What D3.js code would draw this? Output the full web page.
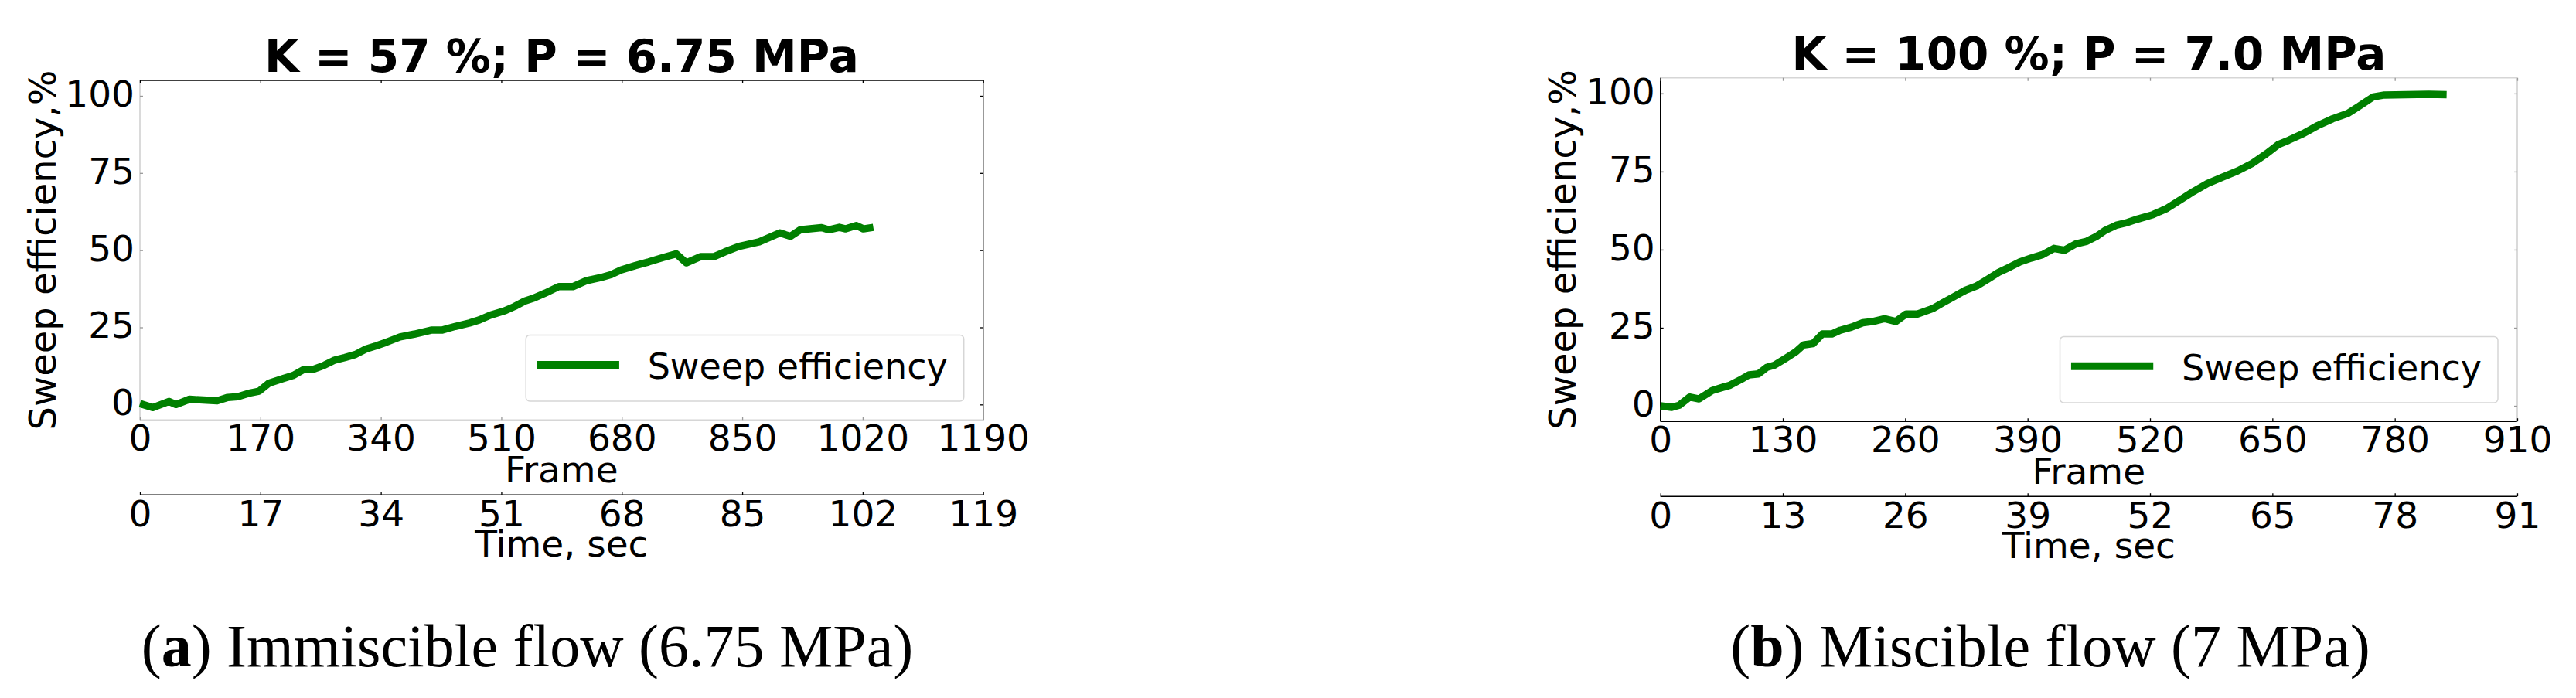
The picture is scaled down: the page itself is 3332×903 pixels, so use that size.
<!DOCTYPE html>
<html>
<head>
<meta charset="utf-8">
<script src="https://cdn.jsdelivr.net/npm/d3@7"></script>
<style>
  body { margin: 0; background: #fff; }
  svg { display: block; }
</style>
</head>
<body>
<svg id="fig" width="3332" height="903"></svg>
<script>
// (a) immiscible flow, 6.75 MPa
const framesA = [0, 18, 41, 51, 70, 94, 109, 124, 138, 153, 168, 182, 202, 216, 231, 246, 260, 275, 289, 304, 319, 333, 348, 367, 387, 411, 426, 445, 465, 479, 494, 514, 528, 543, 557, 572, 591, 611, 630, 650, 665, 679, 699, 718, 738, 757, 771, 791, 811, 825, 845, 874, 903, 918, 932, 962, 972, 987, 996, 1011, 1021, 1035]
const sweepA = [0.3, -1, 1, 0, 1.7, 1.4, 1.2, 2.3, 2.5, 3.6, 4.3, 6.9, 8.4, 9.4, 11.3, 11.5, 12.7, 14.4, 15.2, 16.2, 18, 19, 20.2, 21.9, 22.8, 24.1, 24.1, 25.3, 26.4, 27.4, 28.9, 30.3, 31.7, 33.5, 34.6, 36.1, 38.2, 38.2, 40.1, 41.1, 42.1, 43.6, 45, 46.2, 47.6, 48.8, 45.9, 47.9, 48, 49.4, 51.2, 52.7, 55.6, 54.5, 56.6, 57.3, 56.6, 57.4, 56.9, 58, 56.9, 57.4]
const frameTicksA = [0, 170, 340, 510, 680, 850, 1020, 1190]
const timeTicksA = [0, 17, 34, 51, 68, 85, 102, 119]

// (b) miscible flow, 7 MPa
const framesB = [0, 12, 20, 31, 41, 55, 66, 74, 86, 94, 104, 113, 121, 133, 144, 152, 162, 172, 182, 191, 203, 215, 226, 238, 250, 261, 273, 289, 300, 312, 324, 336, 347, 359, 371, 382, 394, 406, 418, 429, 441, 453, 464, 472, 484, 496, 507, 523, 538, 550, 566, 581, 597, 613, 628, 644, 656, 667, 683, 698, 714, 730, 745, 757, 769, 792, 816, 835]
const sweepB = [0, -0.5, 0.2, 2.8, 2.2, 4.9, 5.9, 6.6, 8.5, 9.9, 10.2, 12.3, 13, 15.2, 17.3, 19.5, 19.9, 23, 23, 24.2, 25.2, 26.6, 27, 27.9, 27, 29.4, 29.4, 31.1, 33, 35, 37, 38.4, 40.4, 42.7, 44.4, 46.1, 47.3, 48.4, 50.4, 49.8, 51.8, 52.7, 54.4, 56.1, 57.8, 58.7, 59.8, 61.2, 63.2, 65.5, 68.6, 71.2, 73.2, 75.2, 77.5, 80.8, 83.6, 85, 87.2, 89.7, 91.9, 93.6, 96.5, 98.9, 99.5, 99.6, 99.7, 99.6]
const frameTicksB = [0, 130, 260, 390, 520, 650, 780, 910]
const timeTicksB = [0, 13, 26, 39, 52, 65, 78, 91]

const sweepTicks = [0, 25, 50, 75, 100]
const titles = ['K = 57 %; P = 6.75 MPa', 'K = 100 %; P = 7.0 MPa']
const captionTags = ['a', 'b']
const captionTexts = ['Immiscible flow (6.75 MPa)', 'Miscible flow (7 MPa)']

const svg = d3.select('#fig')
const SANS = 'DejaVu Sans, sans-serif'
const GREEN = '#008000'
const LIGHT = '#d6d6d6'
const TICK = 4

function styleAxis(sel, color) {
  sel.select('.domain').remove()
  sel.selectAll('.tick line').attr('stroke', color).attr('stroke-width', 1.3)
  sel.selectAll('.tick text')
    .attr('font-family', SANS)
    .attr('font-size', 47)
    .attr('fill', '#000')
}

function drawPanel(p) {
  const g = svg.append('g')
  const x = d3.scaleLinear().domain([0, p.frameMax]).range([p.left, p.right])
  const t = d3.scaleLinear().domain([0, p.frameMax / 10]).range([p.left, p.right])
  const y = d3.scaleLinear().domain([-5, 105]).range([p.bottom, p.top])

  // spines; the two twin axes leave one pair dark and the other pale
  const spines = [
    {side: 'top', x1: p.left, x2: p.right, y1: p.top, y2: p.top},
    {side: 'bottom', x1: p.left, x2: p.right, y1: p.bottom, y2: p.bottom},
    {side: 'left', x1: p.left, x2: p.left, y1: p.top, y2: p.bottom},
    {side: 'right', x1: p.right, x2: p.right, y1: p.top, y2: p.bottom},
  ]
  g.selectAll('line.spine').data(spines).join('line')
    .attr('class', 'spine')
    .attr('x1', d => d.x1).attr('x2', d => d.x2)
    .attr('y1', d => d.y1).attr('y2', d => d.y2)
    .attr('stroke', d => p.dark.includes(d.side) ? '#000' : LIGHT)
    .attr('stroke-width', d => p.dark.includes(d.side) ? 1.4 : 1.8)

  const sideColor = (s) => p.dark.includes(s) ? '#000' : '#999'

  // frame axis (bottom)
  const bx = g.append('g').attr('transform', `translate(0,${p.bottom})`)
    .call(d3.axisBottom(x).tickValues(p.frameTicks).tickSize(-TICK).tickFormat(d3.format('d')))
  styleAxis(bx, sideColor('bottom'))
  bx.selectAll('.tick text').attr('y', 40).attr('dy', 0)

  const tx = g.append('g').attr('transform', `translate(0,${p.top})`)
    .call(d3.axisTop(x).tickValues(p.frameTicks).tickSize(-TICK).tickFormat(''))
  styleAxis(tx, sideColor('top'))

  // sweep axis (left + mirrored right ticks)
  const ly = g.append('g').attr('transform', `translate(${p.left},0)`)
    .call(d3.axisLeft(y).tickValues(sweepTicks).tickSize(-TICK).tickFormat(d3.format('d')))
  styleAxis(ly, sideColor('left'))
  ly.selectAll('.tick text').attr('x', -7).attr('dy', 13.5)

  const ry = g.append('g').attr('transform', `translate(${p.right},0)`)
    .call(d3.axisRight(y).tickValues(sweepTicks).tickSize(-TICK).tickFormat(''))
  styleAxis(ry, sideColor('right'))

  // time axis underneath
  const timeY = p.bottom + 97
  g.append('line')
    .attr('x1', p.left).attr('x2', p.right)
    .attr('y1', timeY).attr('y2', timeY)
    .attr('stroke', '#000').attr('stroke-width', 1.4)
  const ta = g.append('g').attr('transform', `translate(0,${timeY})`)
    .call(d3.axisBottom(t).tickValues(p.timeTicks).tickSize(-TICK).tickFormat(d3.format('d')))
  styleAxis(ta, '#000')
  ta.selectAll('.tick text').attr('y', 41).attr('dy', 0)

  const cx = (p.left + p.right) / 2
  g.append('text')
    .attr('x', cx).attr('y', p.bottom + 81)
    .attr('text-anchor', 'middle')
    .attr('font-family', SANS).attr('font-size', 47)
    .text('Frame')
  g.append('text')
    .attr('x', cx).attr('y', timeY + 80)
    .attr('text-anchor', 'middle')
    .attr('font-family', SANS).attr('font-size', 47)
    .text('Time, sec')

  g.append('text')
    .attr('transform', `translate(${p.left - 109.5},${(p.top + p.bottom) / 2}) rotate(-90)`)
    .attr('text-anchor', 'middle')
    .attr('font-family', SANS).attr('font-size', 48)
    .text('Sweep efficiency,%')

  g.append('text')
    .attr('x', cx).attr('y', p.top - 10.8)
    .attr('text-anchor', 'middle')
    .attr('font-family', SANS).attr('font-size', 58).attr('font-weight', 'bold')
    .text(p.title)

  // data line
  g.append('path')
    .datum(d3.zip(p.frames, p.sweep))
    .attr('d', d3.line().x(d => x(d[0])).y(d => y(d[1])))
    .attr('fill', 'none')
    .attr('stroke', GREEN)
    .attr('stroke-width', 9.5)
    .attr('stroke-linejoin', 'round')

  // legend, lower right
  const lg = g.append('g')
  const boxRight = p.right - 25
  const boxBottom = p.bottom - 24.3
  const boxTop = boxBottom - 85.5
  const box = lg.append('rect')
  const label = lg.append('text')
    .attr('font-family', SANS).attr('font-size', 46)
    .attr('y', boxTop + 56.4)
    .text('Sweep efficiency')
  const tw = label.node().getComputedTextLength()
  const boxLeft = boxRight - 21 - tw - 157.4
  label.attr('x', boxLeft + 157.4)
  box.attr('x', boxLeft).attr('y', boxTop)
    .attr('width', boxRight - boxLeft).attr('height', boxBottom - boxTop)
    .attr('rx', 5).attr('fill', '#fff').attr('stroke', LIGHT).attr('stroke-width', 1.5)
  lg.append('line')
    .attr('x1', boxLeft + 14.4).attr('x2', boxLeft + 120.7)
    .attr('y1', boxTop + 38.4).attr('y2', boxTop + 38.4)
    .attr('stroke', GREEN).attr('stroke-width', 10)

  // caption
  const cap = svg.append('text')
    .attr('x', p.captionX).attr('y', 862)
    .attr('text-anchor', 'middle')
    .attr('font-family', 'Liberation Serif, serif').attr('font-size', 78)
  cap.append('tspan').text('(')
  cap.append('tspan').attr('font-weight', 'bold').text(p.tag)
  cap.append('tspan').text(') ' + p.caption)
}

drawPanel({
  left: 181, right: 1271.7, top: 104, bottom: 543.3,
  frameMax: 1190, frames: framesA, sweep: sweepA,
  frameTicks: frameTicksA, timeTicks: timeTicksA,
  title: titles[0], dark: ['top', 'right'],
  tag: captionTags[0], caption: captionTexts[0], captionX: 682
})

drawPanel({
  left: 2147.7, right: 3256, top: 100.7, bottom: 545.2,
  frameMax: 910, frames: framesB, sweep: sweepB,
  frameTicks: frameTicksB, timeTicks: timeTicksB,
  title: titles[1], dark: ['left', 'bottom'],
  tag: captionTags[1], caption: captionTexts[1], captionX: 2652
})
</script>
</body>
</html>
